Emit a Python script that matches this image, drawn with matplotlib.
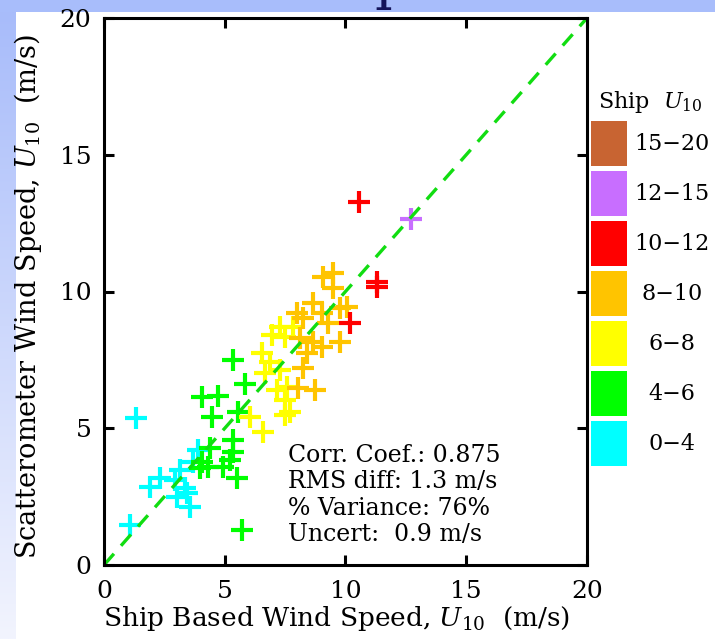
import numpy as np
import matplotlib
matplotlib.use("Agg")
import matplotlib.pyplot as plt

plt.rcParams['font.family'] = ['DejaVu Serif']
plt.rcParams['mathtext.fontset'] = 'dejavuserif'

# ship-based (x) vs scatterometer (y) wind speed, grouped by ship U10 bin
cyan_x = [1.33, 1.08, 1.90, 2.32, 2.94, 3.15, 3.01, 3.42, 3.56, 3.70, 3.90, 3.35]
cyan_y = [5.39, 1.46, 2.86, 3.17, 3.11, 3.47, 2.50, 2.62, 2.13, 3.78, 4.20, 2.80]

green_x = [4.05, 4.73, 5.84, 4.46, 5.56, 5.35, 5.35, 4.39, 5.22, 4.05, 3.98, 4.32,
           4.94, 5.49, 5.70, 5.33]
green_y = [6.13, 6.18, 6.62, 5.42, 5.61, 4.57, 4.14, 4.27, 3.84, 3.78, 3.54, 3.59,
           3.59, 3.17, 1.28, 7.50]

yellow_x = [7.29, 6.94, 7.49, 7.84, 6.53, 6.87, 7.29, 6.67, 7.15, 7.56, 7.49, 7.70,
            7.49, 6.05, 6.60]
yellow_y = [8.71, 8.41, 8.35, 8.71, 7.74, 7.43, 7.13, 7.01, 6.40, 6.52, 6.03, 5.61,
            5.48, 5.42, 4.87]

orange_x = [9.08, 9.49, 9.49, 8.67, 8.25, 9.01, 9.77, 9.29, 8.12, 8.67, 9.01, 9.77,
            8.25, 8.74, 8.05, 8.39, 7.98, 10.05]
orange_y = [10.54, 10.67, 10.12, 9.57, 9.02, 9.20, 9.39, 8.84, 8.29, 8.16, 7.98, 8.16,
            7.19, 6.40, 6.46, 7.74, 9.20, 9.44]

red_x = [10.56, 11.29, 11.29, 10.19]
red_y = [13.26, 10.36, 10.18, 8.86]

violet_x = [12.71]
violet_y = [12.64]

bin_labels = ['0\u22124', '4\u22126', '6\u22128', '8\u221210', '10\u221212', '12\u221215', '15\u221220']
bin_colors = ['#00ffff', '#00ff00', '#ffff00', '#ffc400', '#ff0000', '#c86eff', '#c86432']

stats_lines = ['Corr. Coef.: 0.875', 'RMS diff: 1.3 m/s', '% Variance: 76%', 'Uncert:  0.9 m/s']

W, H = 715, 639
fig = plt.figure(figsize=(W / 100, H / 100), dpi=100)
fig.patch.set_facecolor('white')

# slide background: blue band on top, fading strip on the left
top = fig.add_axes([0, 1 - 12 / H, 1, 12 / H], zorder=-2)
top.set_facecolor('#a8bdfb')
top.set_xlim(0, W)
top.set_ylim(12, 0)
# tail of the slide title, mostly hidden behind the white panel
top.text(392, -2, 'p', fontsize=40, color='#14145a', ha='center', va='baseline', clip_on=True)
top.set_xticks([])
top.set_yticks([])
for s in top.spines.values():
    s.set_visible(False)

left = fig.add_axes([0, 0, 16 / W, 1 - 12 / H], zorder=-2)
grad = np.linspace(0, 1, 256)[:, None]
left.imshow(grad, aspect='auto', extent=[0, 1, 0, 1], origin='lower',
            cmap=matplotlib.colors.LinearSegmentedColormap.from_list('g', ['#f2f4fe', '#a8bcfa']))
left.axis('off')

# main scatter
ax = fig.add_axes([104 / W, 1 - 565 / H, 483 / W, 547 / H])
mk = dict(marker='+', linestyle='none', markersize=16, markeredgewidth=3.0)
ax.plot(cyan_x, cyan_y, color=bin_colors[0], **mk)
ax.plot(green_x, green_y, color=bin_colors[1], **mk)
ax.plot(yellow_x, yellow_y, color=bin_colors[2], **mk)
ax.plot(orange_x, orange_y, color=bin_colors[3], **mk)
ax.plot(red_x, red_y, color=bin_colors[4], **mk)
ax.plot(violet_x, violet_y, color=bin_colors[5], **mk)

ax.plot([0, 20], [0, 20], color='#11dd11', linewidth=2.4, dashes=(4.5, 3.2))

ax.set_xlim(0, 20)
ax.set_ylim(0, 20)
ax.set_xticks([0, 5, 10, 15, 20])
ax.set_yticks([0, 5, 10, 15, 20])
ax.tick_params(direction='in', length=7, width=2.2, top=True, right=True,
               labelsize=18)
ax.tick_params(axis='x', pad=11)
ax.tick_params(axis='y', pad=9)
for s in ax.spines.values():
    s.set_linewidth(2.2)

ax.set_xlabel(r'Ship Based Wind Speed, $U_{10}$  (m/s)', fontsize=19)
ax.set_ylabel(r'Scatterometer Wind Speed, $U_{10}$  (m/s)', fontsize=19.5)
ax.xaxis.set_label_coords(0.482, -0.072)
ax.yaxis.set_label_coords(-0.125, 0.49)

for i, line in enumerate(stats_lines):
    ax.text(7.62, 4.02 - 0.97 * i, line, fontsize=17, ha='left', va='center')

# colour key for ship U10 bins
leg = fig.add_axes([585 / W, 1 - 471 / H, 130 / W, 350 / H])
leg.set_xlim(0, 1)
leg.set_ylim(0, 7)
leg.axis('off')
pos = np.arange(len(bin_labels)) + 0.55
leg.barh(pos, 0.277, left=0.046, height=0.9, color=bin_colors)
for p, lab in zip(pos, bin_labels):
    leg.text(0.669, p, lab, fontsize=16, ha='center', va='center')
leg.text(0.5, 7.38, r'Ship  $U_{10}$', fontsize=16, ha='center', va='center')

fig.savefig('out.png', dpi=100)
